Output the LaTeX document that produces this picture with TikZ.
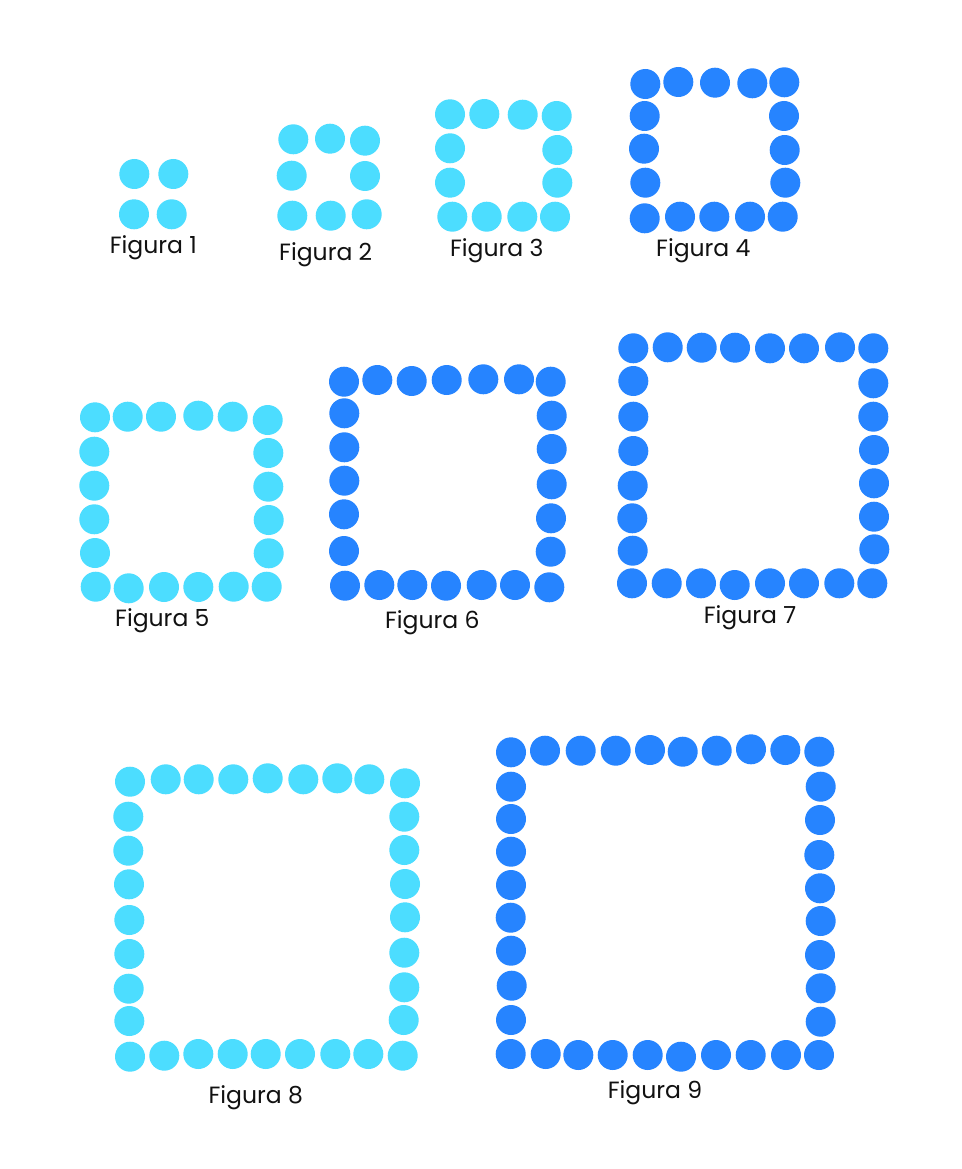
\documentclass[tikz,border=0pt]{standalone}
\usepackage{fontspec}
\setmainfont{Poppins}
\definecolor{cyandot}{HTML}{4CDDFF}
\definecolor{bluedot}{HTML}{2684FF}
\definecolor{labeltext}{HTML}{111111}
\tikzset{
  cdot/.style={circle, fill=cyandot, draw=none, minimum size=30pt, inner sep=0pt},
  bdot/.style={circle, fill=bluedot, draw=none, minimum size=30pt, inner sep=0pt},
  figlabel/.style={text=labeltext, font=\fontsize{23.5}{26}\selectfont, inner sep=0pt, anchor=base}
}
\begin{document}
\begin{tikzpicture}[x=1pt,y=-1pt]
\useasboundingbox[fill=white] (0,0) rectangle (961,1169);
% Figura 1
\foreach \x/\y [count=\i] in {134.3/174,173.3/174,134/214.3,171.7/214.3}
  \node[cdot] (fa\i) at (\x,\y) {};
\node[figlabel] (la) at (153.3,253) {Figura 1};
% Figura 2
\foreach \x/\y [count=\i] in {293.3/139.3,330/138.7,365/140.7,291.7/175.7,365/176,292.3/215.7,330.7/215.7,366.7/214.3}
  \node[cdot] (fb\i) at (\x,\y) {};
\node[figlabel] (lb) at (325.7,260.7) {Figura 2};
% Figura 3
\foreach \x/\y [count=\i] in {450/114.3,484.3/114,522.7/114.7,556.7/116,450/148.3,450/182.7,557.3/150,557.3/182.7,452.3/216.7,486.7/216.7,522.3/216.7,555/216.7}
  \node[cdot] (fc\i) at (\x,\y) {};
\node[figlabel] (lc) at (496.7,256.3) {Figura 3};
% Figura 4
\foreach \x/\y [count=\i] in {645.3/84,678.3/82,715/82.7,752.3/83.3,784.3/82.3,644.7/116,644/148.7,645.3/182.7,784/116,784.7/150,785.3/182.7,644.7/218.3,680/216.7,714.3/216.7,750/216.7,782.7/216.7}
  \node[bdot] (fd\i) at (\x,\y) {};
\node[figlabel] (ld) at (703.3,256.3) {Figura 4};
% Figura 5
\foreach \x/\y [count=\i] in {95/417.3,127.7/416.7,161/416.7,198.3/415.7,232.7/416.7,267.7/420,94.3/451.7,94.3/485.7,94.3/519.3,95/553,268.3/453,268.3/486.7,268.7/520,268.7/553.3,95.7/586.7,128.7/588.3,164/587,198.3/587,233.7/586.7,266.7/586.7}
  \node[cdot] (fe\i) at (\x,\y) {};
\node[figlabel] (le) at (162.3,626.3) {Figura 5};
% Figura 6
\foreach \x/\y [count=\i] in {344/381.7,377.3/380,411.7/381,446.7/380,483.3/379.3,519/379.3,550.7/381.7,344.3/413.3,344.3/447.3,344.3/480.7,344/514.3,344/551,551.7/415.7,551.7/449,551.7/484.3,551/518.3,550.7/551.7,345/585.7,379.3/585,412.3/585,446/585.7,481.7/585,515/585,549.3/587.3}
  \node[bdot] (ff\i) at (\x,\y) {};
\node[figlabel] (lf) at (432.3,628) {Figura 6};
% Figura 7
\foreach \x/\y [count=\i] in {633.3/348.3,667.7/347.3,701.7/347.7,735/347.7,770/348.3,804/348.3,840/347.3,873.3/348.3,633.3/381,633.3/416.7,633.3/451,632.7/485.7,632.3/518.3,632.7/550.7,873.3/383.3,873.3/416.7,874/450,874/483.3,874/516.7,874.3/549.3,632/583.3,666.7/583.3,701/583.3,734.7/585,770/583.3,804/583.3,839.3/583.3,872.3/583.3}
  \node[bdot] (fg\i) at (\x,\y) {};
\node[figlabel] (lg) at (750,623) {Figura 7};
% Figura 8
\foreach \x/\y [count=\i] in {130/781.7,165.7/779.3,198.7/779.3,233.3/779.3,267.7/778.3,303.3/779.3,337.3/778.3,369.3/779.3,405/783.3,128.3/816.7,128.3/850.7,129/884.3,129.3/920,129.3/954,128.7/988.7,129.3/1021,404.3/816.7,404.3/850,405/884,405/917.3,404.3/952.7,404.3/987.3,403.7/1020,130/1056.7,164.3/1055.7,198.3/1054,232.7/1054,265.7/1054,300/1054,335.3/1054,368.3/1054,402.7/1055.7}
  \node[cdot] (fh\i) at (\x,\y) {};
\node[figlabel] (lh) at (255.7,1103) {Figura 8};
% Figura 9
\foreach \x/\y [count=\i] in {511/752.3,545/750.7,580.7/750.7,615.7/750.7,650/750,682.7/751.7,716.7/750.7,751/749.3,785.3/750,819.3/751.7,511/786.7,511/819,511/851.7,511/885,510.7/917.7,511/950.7,511.7/985.7,511/1020,820.7/786.7,820/820,819.3/855,820/888.3,820.7/921,820/955,820.7/988.3,820.7/1021.7,510.7/1054,545.7/1054,578.3/1055,612.7/1055,647.7/1055,681/1056.7,716/1055,750.7/1055,786/1055,819/1055}
  \node[bdot] (fi\i) at (\x,\y) {};
\node[figlabel] (li) at (655,1098) {Figura 9};
\end{tikzpicture}
\end{document}
